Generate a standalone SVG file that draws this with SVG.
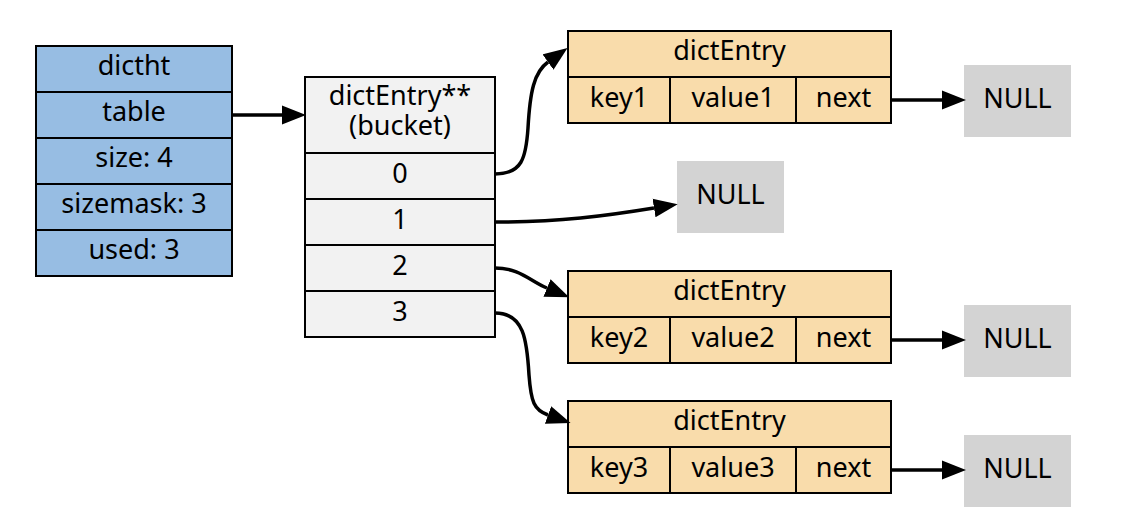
<svg xmlns="http://www.w3.org/2000/svg" width="1133" height="525" viewBox="0 0 1133 525">
<style>
text{font-family:"Noto Sans","Open Sans","DejaVu Sans",sans-serif;font-size:27px;fill:#000;text-anchor:middle}
.b{stroke:#000;stroke-width:2}
.ht{fill:#97bde3}
.bk{fill:#f2f2f2}
.en{fill:#f9dcab}
.nl{fill:#d3d3d3}
.e{fill:none;stroke:#000;stroke-width:3.5;marker-end:url(#ah)}
</style>
<defs>
<marker id="ah" markerUnits="userSpaceOnUse" markerWidth="24" markerHeight="20" refX="0" refY="9" orient="auto" viewBox="0 0 23 18">
<path d="M0,0 L23,9 L0,18 z" fill="#000"/>
</marker>
</defs>
<rect width="1133" height="525" fill="#fff"/>
<g id="dictht">
<rect class="b ht" x="36" y="46" width="196" height="230"/>
<path class="b" d="M36,92H232M36,138H232M36,184H232M36,230H232"/>
<text x="134" y="75">dictht</text>
<text x="134" y="121">table</text>
<text x="134" y="167">size: 4</text>
<text x="134" y="213">sizemask: 3</text>
<text x="134" y="259">used: 3</text>
</g>
<g id="bucket">
<rect class="b bk" x="305" y="77" width="190" height="260"/>
<path class="b" d="M305,153H495M305,199H495M305,245H495M305,291H495"/>
<text x="400" y="105"><tspan x="400" y="105">dictEntry**</tspan><tspan x="400" y="135">(bucket)</tspan></text>
<text x="400" y="183">0</text>
<text x="400" y="229">1</text>
<text x="400" y="275">2</text>
<text x="400" y="321">3</text>
</g>
<g id="entry1">
<rect class="b en" x="568" y="31" width="323" height="92"/>
<path class="b" d="M568,77H891M670,77V123M796,77V123"/>
<text x="729.5" y="60">dictEntry</text>
<text x="619" y="107">key1</text>
<text x="733" y="107">value1</text>
<text x="843.5" y="107">next</text>
</g>
<g id="entry2">
<rect class="b en" x="568" y="271" width="323" height="92"/>
<path class="b" d="M568,317H891M670,317V363M796,317V363"/>
<text x="729.5" y="300">dictEntry</text>
<text x="619" y="347">key2</text>
<text x="733" y="347">value2</text>
<text x="843.5" y="347">next</text>
</g>
<g id="entry3">
<rect class="b en" x="568" y="401" width="323" height="92"/>
<path class="b" d="M568,447H891M670,447V493M796,447V493"/>
<text x="729.5" y="430">dictEntry</text>
<text x="619" y="477">key3</text>
<text x="733" y="477">value3</text>
<text x="843.5" y="477">next</text>
</g>
<g id="null0">
<rect class="nl" x="964" y="65" width="107" height="72"/>
<text x="1017.5" y="108">NULL</text>
</g>
<g id="null1">
<rect class="nl" x="677" y="161" width="107" height="72"/>
<text x="730.5" y="204">NULL</text>
</g>
<g id="null2">
<rect class="nl" x="964" y="305" width="107" height="72"/>
<text x="1017.5" y="348">NULL</text>
</g>
<g id="null3">
<rect class="nl" x="964" y="435" width="107" height="72"/>
<text x="1017.5" y="478">NULL</text>
</g>
<g id="connectors">
<path class="e" d="M232,115H282"/>
<path class="e" d="M495,174C522,174 526,158 528,128C530,92 534,72 548,62"/>
<path class="e" d="M495,222C560,222 605,216 654,208"/>
<path class="e" d="M495,268C520,268 530,281 547,288"/>
<path class="e" d="M495,313C524,313 527,340 529,375C531,402 534,410 548,415"/>
<path class="e" d="M891,100H942"/>
<path class="e" d="M891,340H942"/>
<path class="e" d="M891,470H942"/>
</g>
</svg>
